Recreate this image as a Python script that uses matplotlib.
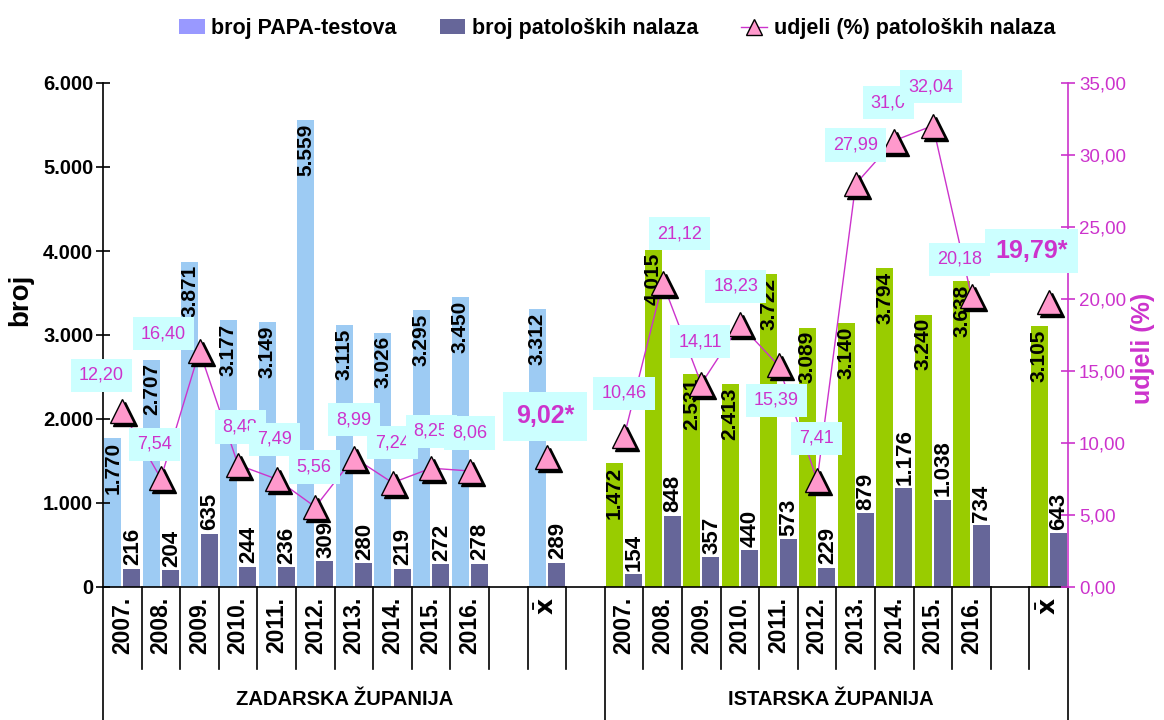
import numpy as np
import matplotlib
matplotlib.use("Agg")
import matplotlib.pyplot as plt
import matplotlib.transforms as mtransforms
from matplotlib.patches import Patch
from matplotlib.lines import Line2D

years = ["2007.", "2008.", "2009.", "2010.", "2011.", "2012.", "2013.", "2014.", "2015.", "2016."]
zad_papa = [1770, 2707, 3871, 3177, 3149, 5559, 3115, 3026, 3295, 3450]
zad_pat = [216, 204, 635, 244, 236, 309, 280, 219, 272, 278]
zad_pct = [12.20, 7.54, 16.40, 8.48, 7.49, 5.56, 8.99, 7.24, 8.25, 8.06]
zad_mean = [3312, 289, 9.02]
ist_papa = [1472, 4015, 2531, 2413, 3722, 3089, 3140, 3794, 3240, 3638]
ist_pat = [154, 848, 357, 440, 573, 229, 879, 1176, 1038, 734]
ist_pct = [10.46, 21.12, 14.11, 18.23, 15.39, 7.41, 27.99, 31.0, 32.04, 20.18]
ist_pct_txt = ["10,46", "21,12", "14,11", "18,23", "15,39", "7,41", "27,99", "31,0", "32,04", "20,18"]
ist_mean = [3105, 643, 19.79]
groups = ["ZADARSKA ŽUPANIJA", "ISTARSKA ŽUPANIJA"]

# label offsets (pixels) of the percentage boxes
zad_off = [(-21, 36), (-6, 34), (-36, 17), (2, 38), (-2, 40), (-1, 40), (0, 38), (0, 40), (0, 37), (0, 38)]
ist_off = [(0, 43), (17, 49), (-1, 42), (-4, 38), (-2, -35), (-1, 42), (0, 39), (-6, 38), (-2, 39), (-12, 37)]

LIGHT = "#9DCBF3"
GREEN = "#99CC00"
DARK = "#666699"
MAG = "#CC33CC"
PINK = "#FF99CC"
BOX = "#CCFFFF"
plt.rcParams["font.family"] = ["Liberation Sans", "DejaVu Sans"]

def fmt(v):
    return f"{v:,}".replace(",", ".")

zad_x = np.arange(10) + 0.5
zad_mx = 11.5
ist_x = np.arange(10) + 13.5
ist_mx = 24.5

fig = plt.figure(figsize=(11.64, 7.2), dpi=100)
ax = fig.add_axes([103 / 1164, 1 - 587 / 720, (1068 - 103) / 1164, 504 / 720])
ax.set_xlim(0, 25)
ax.set_ylim(0, 6000)

w = 0.44
ax.bar(zad_x - 0.25, zad_papa, width=w, color=LIGHT)
ax.bar([zad_mx - 0.25], [zad_mean[0]], width=w, color=LIGHT)
ax.bar(ist_x - 0.25, ist_papa, width=w, color=GREEN)
ax.bar([ist_mx - 0.25], [ist_mean[0]], width=w, color=GREEN)
ax.bar(list(zad_x + 0.25) + [zad_mx + 0.25], zad_pat + [zad_mean[1]], width=w, color=DARK)
ax.bar(list(ist_x + 0.25) + [ist_mx + 0.25], ist_pat + [ist_mean[1]], width=w, color=DARK)

all_x = list(zad_x) + [zad_mx] + list(ist_x) + [ist_mx]
all_papa = zad_papa + [zad_mean[0]] + ist_papa + [ist_mean[0]]
all_pat = zad_pat + [zad_mean[1]] + ist_pat + [ist_mean[1]]
for x, v in zip(all_x, all_papa):
    ax.text(x - 0.25, v - 40, fmt(v), rotation=90, ha="center", va="top",
            fontsize=15, fontweight="bold")
for x, v in zip(all_x, all_pat):
    ax.text(x + 0.27, v + 40, fmt(v), rotation=90, ha="center", va="bottom",
            fontsize=16, fontweight="bold")

for s in ["top", "right"]:
    ax.spines[s].set_visible(False)
ax.spines["left"].set_linewidth(1.2)
ax.spines["bottom"].set_linewidth(1.2)
ax.set_xticks([])
yt = np.arange(0, 6001, 1000)
ax.set_yticks(yt)
ax.set_yticklabels([fmt(v) for v in yt], fontweight="bold", fontsize=14.5)
ax.tick_params(axis="y", direction="inout", length=10, width=1.2, pad=2)

# category separators and labels below the axis
tr = mtransforms.blended_transform_factory(ax.transData, ax.transAxes)
for k in range(26):
    bottom = -0.27 if k in (0, 13, 25) else -0.162
    ax.plot([k, k], [0, bottom], color="black", lw=1.2, transform=tr, clip_on=False)
for x, y in zip(list(zad_x) + list(ist_x), years + years):
    ax.text(x, -0.02, y, rotation=90, ha="center", va="top", transform=tr,
            fontsize=16.5, fontweight="bold")
for x in (zad_mx, ist_mx):
    ax.text(x, -0.02, r"$\bar{\mathbf{x}}$", rotation=90, ha="center", va="top",
            transform=tr, fontsize=18)
ax.text(6.25, -0.224, groups[0], ha="center", va="center", transform=tr,
        fontsize=14.5, fontweight="bold")
ax.text(18.85, -0.224, groups[1], ha="center", va="center", transform=tr,
        fontsize=14.5, fontweight="bold")

# percentage axis
ax2 = ax.twinx()
ax2.set_ylim(0, 35)
ax2.set_xlim(0, 25)
for s in ["top", "left", "bottom"]:
    ax2.spines[s].set_visible(False)
ax2.spines["right"].set_color(MAG)
ax2.spines["right"].set_linewidth(1.2)
pt = np.arange(0, 36, 5)
ax2.set_yticks(pt)
ax2.set_yticklabels([f"{v:.2f}".replace(".", ",") for v in pt], fontsize=13.5, color=MAG)
ax2.tick_params(axis="y", direction="inout", length=10, width=1.2, color=MAG, pad=3)

shadow = mtransforms.offset_copy(ax2.transData, fig=fig, x=3, y=-3, units="dots")
ax2.plot(zad_x, zad_pct, color=MAG, lw=1, zorder=2)
ax2.plot(ist_x, ist_pct, color=MAG, lw=1, zorder=2)
px = list(zad_x) + [zad_mx] + list(ist_x) + [ist_mx]
pv = zad_pct + [zad_mean[2]] + ist_pct + [ist_mean[2]]
ax2.plot(px, pv, ls="none", marker="^", ms=17, color="black", transform=shadow, zorder=3)
ax2.plot(px, pv, ls="none", marker="^", ms=17, mfc=PINK, mec="black", mew=1, zorder=3)

bbox = dict(boxstyle="square,pad=0.45", fc=BOX, ec="none")
for x, v, (dx, dy) in zip(zad_x, zad_pct, zad_off):
    ax2.annotate(f"{v:.2f}".replace(".", ","), (x, v), xytext=(dx, dy), textcoords="offset pixels",
                 ha="center", va="center", color=MAG, fontsize=13, bbox=bbox, zorder=5)
for x, v, t, (dx, dy) in zip(ist_x, ist_pct, ist_pct_txt, ist_off):
    ax2.annotate(t, (x, v), xytext=(dx, dy), textcoords="offset pixels",
                 ha="center", va="center", color=MAG, fontsize=13, bbox=bbox, zorder=5)
ax2.annotate("9,02*", (zad_mx, zad_mean[2]), xytext=(-2, 41), textcoords="offset pixels",
             ha="center", va="center", color=MAG, fontsize=18, fontweight="bold",
             bbox=dict(boxstyle="square,pad=0.5", fc=BOX, ec="none"), zorder=5)
ax2.annotate("19,79*", (ist_mx, ist_mean[2]), xytext=(-17, 51), textcoords="offset pixels",
             ha="center", va="center", color=MAG, fontsize=18, fontweight="bold",
             bbox=dict(boxstyle="square,pad=0.4", fc=BOX, ec="none"), zorder=5)

fig.text(20 / 1164, 1 - 300 / 720, "broj", rotation=90, ha="center", va="center",
         fontsize=20, fontweight="bold")
fig.text(1143 / 1164, 1 - 348 / 720, "udjeli (%)", rotation=90, ha="center", va="center",
         fontsize=18, fontweight="bold", color=MAG)

handles = [Patch(fc="#9999FF"), Patch(fc=DARK),
           Line2D([], [], color=MAG, lw=1, marker="^", ms=12, mfc=PINK, mec="black")]
fig.legend(handles, ["broj PAPA-testova", "broj patoloških nalaza", "udjeli (%) patoloških nalaza"],
           loc="center", bbox_to_anchor=(0.53, 0.96), ncol=3, frameon=False,
           prop=dict(weight="bold", size=15.5), handlelength=1.2,
           handletextpad=0.3, columnspacing=2.0)

fig.savefig("out.png", dpi=100)
